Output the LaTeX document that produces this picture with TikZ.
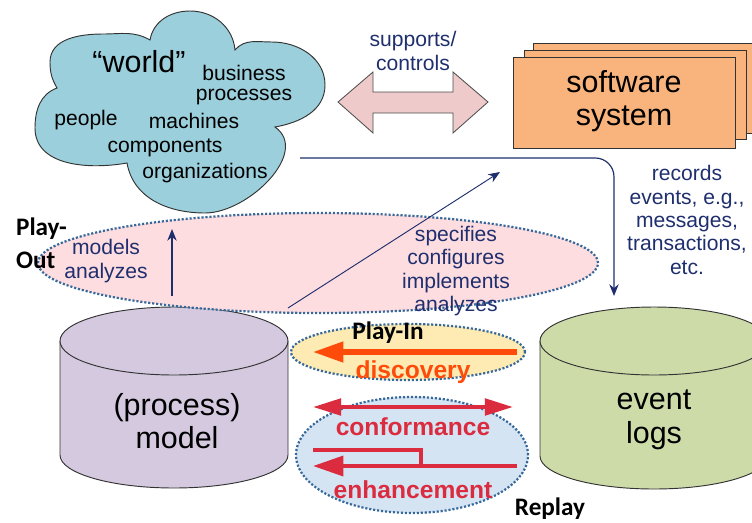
\documentclass[tikz,border=0pt]{standalone}
\usepackage{fontspec}
\setmainfont{Liberation Sans}
\newfontfamily\calfont{Carlito}
\usetikzlibrary{arrows.meta}

\definecolor{cloudblue}{HTML}{9BCFDB}
\definecolor{arrowpink}{HTML}{EECACA}
\definecolor{swfill}{HTML}{F8B47C}
\definecolor{pinkfill}{HTML}{FDDDE0}
\definecolor{modelfill}{HTML}{D4C9DF}
\definecolor{logfill}{HTML}{CDDBA9}
\definecolor{yellowfill}{HTML}{FDEBB3}
\definecolor{bluefill}{HTML}{D5E4F3}
\definecolor{dotblue}{HTML}{36689A}
\definecolor{navy}{HTML}{1F2F6E}
\definecolor{orangered}{HTML}{FF4B0A}
\definecolor{crimson}{HTML}{DB2B3F}

\begin{document}
\begin{tikzpicture}[x=0.03cm,y=0.03cm,>={Stealth[length=10pt,width=8pt]},
  dots/.style={draw=dotblue,line width=1.9pt,dash pattern=on 1.8pt off 1.6pt},
  outl/.style={draw=black!80,line width=0.8pt},
  small/.style={font=\fontsize{18}{20}\selectfont,align=center},
  big/.style={font=\fontsize{26}{28.5}\selectfont,align=center},
  tag/.style={font=\calfont\bfseries\fontsize{21.5}{28}\selectfont,align=left},
  redlbl/.style={font=\bfseries\fontsize{21}{24}\selectfont},
  redline/.style={line width=3.4pt,draw=crimson}]
 \useasboundingbox (0,0) rectangle (752,-522);
 \clip (0,0) rectangle (752,-522);
 % cylinders
 \fill[modelfill] (60,-341) -- (60,-455) arc[start angle=180,end angle=360,x radius=114,y radius=33] -- (288,-341) -- cycle;
 \draw[outl] (60,-341) -- (60,-455) arc[start angle=180,end angle=360,x radius=114,y radius=33] -- (288,-341);
 \filldraw[fill=modelfill,outl] (174,-341) ellipse[x radius=114,y radius=34];
 \fill[logfill] (540,-341) -- (540,-456) arc[start angle=180,end angle=360,x radius=114,y radius=33] -- (768,-341) -- cycle;
 \draw[outl] (540,-341) -- (540,-456) arc[start angle=180,end angle=360,x radius=114,y radius=33] -- (768,-341);
 \filldraw[fill=logfill,outl] (654,-341) ellipse[x radius=114,y radius=34];
 % dotted regions
 \filldraw[fill=pinkfill,dots] (318,-263) ellipse[x radius=280,y radius=50];
 \filldraw[fill=yellowfill,dots] (408,-352) ellipse[x radius=117,y radius=28];
 \filldraw[fill=bluefill,dots] (412,-455) ellipse[x radius=116,y radius=58];
 % world
 \filldraw[fill=cloudblue,outl]
  (150,-40) to[out=80,in=180] (190,-11) to[out=0,in=95] (235,-50)
  to[out=50,in=180] (272,-42) to[out=0,in=90] (325,-85) to[out=-90,in=10] (275,-127)
  to[out=-35,in=0] (205,-213) to[out=180,in=-80] (127,-163)
  to[out=190,in=-90] (35,-128) to[out=90,in=200] (57,-88)
  to[out=120,in=-90] (50,-62) to[out=90,in=180] (103,-34) to[out=0,in=150] (150,-40) -- cycle;
 \node[big] (world) at (139,-62) {“world”};
 \node[small] (business) at (244,-73) {business};
 \node[small] (processes) at (244,-97) {processes};
 \node[small] (people) at (86,-120) {people};
 \node[small] (machines) at (194,-121) {machines};
 \node[small] (components) at (165,-148) {components};
 \node[small] (organizations) at (205,-173) {organizations};
 % supports/controls
 \filldraw[fill=arrowpink,draw=black!70,line width=0.7pt]
  (338,-102) -- (373,-72) -- (373,-92) -- (453,-92) -- (453,-72) -- (488,-102)
  -- (453,-133) -- (453,-113) -- (373,-113) -- (373,-133) -- cycle;
 \node[small,text=navy] (supports) at (413,-51) {supports/\\controls};
 % software system
 \filldraw[fill=swfill,outl] (533,-43) rectangle (760,-133);
 \filldraw[fill=swfill,outl] (524,-50) rectangle (746,-139);
 \filldraw[fill=swfill,outl] (513,-57) rectangle (735,-148);
 \node[big] (sw) at (624,-101) {software\\system};
 \node[small,text=navy] (records) at (687,-220) {records\\events, e.g.,\\messages,\\transactions,\\etc.};
 % texts
 \node[big] (model) at (177,-421) {(process)\\model};
 \node[big] (logs) at (654,-420) {event\\logs};
 \node[small,text=navy] (models) at (106,-261) {models\\analyzes};
 \node[small,text=navy] (specifies) at (456,-271) {specifies\\configures\\implements\\analyzes};
 \node[tag,anchor=west] (playout) at (12,-243) {Play-\\Out};
 \node[tag] (playin) at (388,-333) {Play-In};
 \node[tag] (replay) at (550,-509) {Replay};
 \node[redlbl,text=orangered] (discovery) at (413,-372) {discovery};
 \node[redlbl,text=crimson] (conformance) at (413,-427) {conformance};
 \node[redlbl,text=crimson] (enhancement) at (413,-490) {enhancement};
 % connectors
 \coordinate (mtop) at (172,-296);
 \coordinate (wbot) at (172,-229);
 \coordinate (mcorner) at (288,-308);
 \coordinate (swtip) at (500,-172);
 \coordinate (wstart) at (300,-158);
 \coordinate (ltop) at (614,-296);
 \draw[->,navy,line width=1pt] (mtop) -- (wbot);
 \draw[->,navy,line width=0.8pt] (mcorner) -- (swtip);
 \draw[->,navy,line width=1pt,rounded corners=16pt] (wstart) -- (614,-158) -- (ltop);
 \coordinate (dstart) at (517,-352);
 \coordinate (dend) at (313,-352);
 \draw[-{Triangle[length=26pt,width=17pt]},line width=4.3pt,orangered] (dstart) -- (dend);
 \coordinate (cleft) at (313,-407);
 \coordinate (cright) at (513,-407);
 \draw[redline,{Triangle[length=24pt,width=14pt]}-{Triangle[length=24pt,width=14pt]},crimson] (cleft) -- (cright);
 \coordinate (eleft) at (313,-450);
 \coordinate (eknee) at (421,-450);
 \coordinate (estart) at (517,-466);
 \coordinate (eend) at (313,-466);
 \draw[redline] (eleft) -- (eknee) -- (421,-466);
 \draw[redline,-{Triangle[length=26pt,width=17pt]},crimson] (estart) -- (eend);
\end{tikzpicture}
\end{document}
